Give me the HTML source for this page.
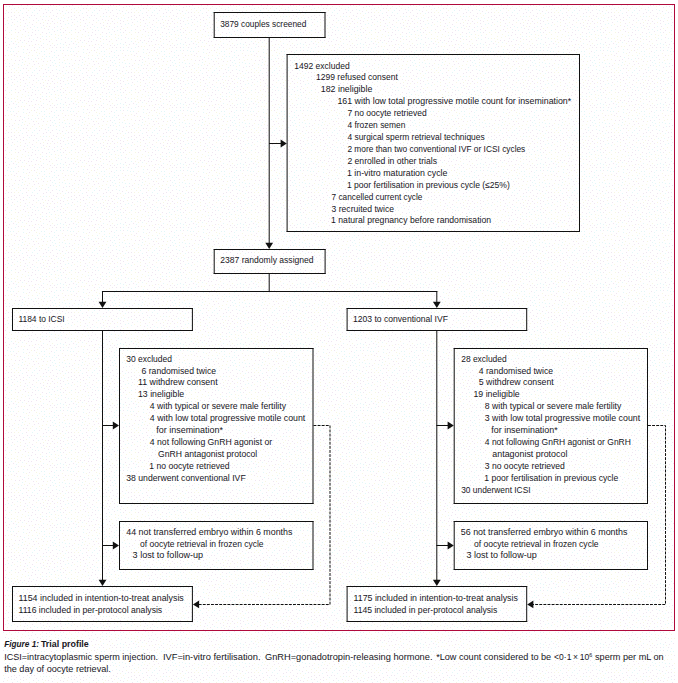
<!DOCTYPE html>
<html lang="en">
<head>
<meta charset="utf-8">
<title>Figure 1: Trial profile</title>
<style>
html,body{margin:0;padding:0;background:#fff;}
body{width:678px;height:683px;overflow:hidden;}
svg{display:block;}
text{font-family:"Liberation Sans",Arial,Helvetica,sans-serif;fill:#17161d;}
</style>
</head>
<body>
<svg width="678" height="683" viewBox="0 0 678 683">
<rect x="0" y="0" width="678" height="683" fill="#fff"/>
<defs>
<pattern id="dz" x="3" y="4" width="60" height="60" patternUnits="userSpaceOnUse">
<path d="M35 54.5h1M29 28.5h1M11 51.5h1M32 30.5h1M50 11.5h1M2 38.5h1M10 39.5h1M12 56.5h1M29 20.5h1M28 37.5h1M53 12.5h1M33 14.5h1M31 0.5h1M42 5.5h1M35 59.5h1M45 16.5h1M49 6.5h1M13 13.5h1M24 45.5h1M49 43.5h1M26 48.5h1M59 7.5h1M0 3.5h1M31 11.5h1M43 35.5h1M41 24.5h1M0 17.5h1M55 51.5h1M37 19.5h1M25 54.5h1M38 41.5h1M36 6.5h1M5 13.5h1M53 36.5h1M24 11.5h1M40 9.5h1M39 15.5h1M6 2.5h1M45 25.5h1M47 1.5h1M33 36.5h1M23 8.5h1M58 22.5h1M44 19.5h1M21 22.5h1M5 43.5h1M30 57.5h1M16 56.5h1M28 31.5h1M20 25.5h1M20 13.5h1M8 8.5h1M17 52.5h1M31 43.5h1M39 28.5h1M20 4.5h1M17 36.5h1M22 19.5h1M17 15.5h1M51 23.5h1M16 11.5h1M51 41.5h1M20 16.5h1M49 17.5h1M48 14.5h1M54 9.5h1M34 33.5h1M26 34.5h1M24 1.5h1M46 22.5h1M31 46.5h1M12 25.5h1M40 43.5h1M32 40.5h1M43 29.5h1M22 27.5h1M56 55.5h1M40 57.5h1M32 26.5h1M30 16.5h1M2 33.5h1M47 8.5h1M48 47.5h1M14 22.5h1M57 43.5h1M51 19.5h1M25 37.5h1M37 34.5h1M43 8.5h1M9 18.5h1M40 21.5h1M11 11.5h1M0 46.5h1M15 42.5h1M57 19.5h1M21 36.5h1M51 27.5h1M57 25.5h1M13 49.5h1M2 51.5h1M26 41.5h1M8 12.5h1M23 4.5h1M28 11.5h1M57 16.5h1M2 26.5h1M27 23.5h1M9 1.5h1M19 55.5h1M11 15.5h1M6 40.5h1M46 37.5h1M53 43.5h1M15 28.5h1M5 8.5h1M0 28.5h1M47 41.5h1M47 56.5h1" stroke="#efe4f1" stroke-width="1" fill="none" shape-rendering="crispEdges"/>
<path d="M28 55.5h1M32 54.5h1M40 39.5h1M19 9.5h1M5 34.5h1M51 56.5h1M41 47.5h1M33 4.5h1M3 2.5h1M53 5.5h1M20 48.5h1M18 1.5h1M59 58.5h1M40 12.5h1M5 19.5h1M8 15.5h1M45 6.5h1M8 26.5h1M26 13.5h1M56 1.5h1M2 9.5h1M21 53.5h1M15 0.5h1M38 23.5h1M29 8.5h1M19 58.5h1M10 47.5h1M12 43.5h1M30 35.5h1M41 54.5h1M57 28.5h1M8 37.5h1M2 59.5h1M4 46.5h1M34 23.5h1M54 26.5h1M50 1.5h1M19 38.5h1M1 14.5h1M58 31.5h1M51 48.5h1M31 22.5h1M20 45.5h1M53 53.5h1M41 50.5h1M49 53.5h1M48 30.5h1M14 17.5h1M57 46.5h1M35 26.5h1M53 46.5h1M58 35.5h1M57 39.5h1M8 21.5h1M52 59.5h1M8 44.5h1M0 43.5h1M31 6.5h1M56 6.5h1M36 43.5h1M39 32.5h1M7 47.5h1M11 4.5h1M6 59.5h1M54 22.5h1M34 9.5h1M29 25.5h1M34 51.5h1M49 58.5h1M2 20.5h1M55 14.5h1M51 51.5h1M46 52.5h1M45 3.5h1M17 6.5h1M35 16.5h1M54 40.5h1M55 34.5h1M13 40.5h1M43 32.5h1M49 25.5h1M43 52.5h1M38 47.5h1M24 21.5h1M43 12.5h1M46 28.5h1M25 31.5h1M0 40.5h1" stroke="#e1f7f8" stroke-width="1" fill="none" shape-rendering="crispEdges"/>
<path d="M59 49.5h1M37 12.5h1M6 28.5h1M44 40.5h1M25 28.5h1M0 53.5h1M15 38.5h1M40 18.5h1M29 41.5h1M17 26.5h1M14 32.5h1M25 6.5h1M54 18.5h1M43 0.5h1M3 30.5h1M17 21.5h1M21 0.5h1M29 51.5h1M12 28.5h1M46 49.5h1M49 39.5h1M23 39.5h1M37 30.5h1M8 55.5h1M14 52.5h1M46 12.5h1M40 35.5h1M3 6.5h1M15 47.5h1M18 33.5h1M11 59.5h1M58 13.5h1M15 3.5h1M8 5.5h1M21 42.5h1M46 44.5h1M4 55.5h1M55 31.5h1M24 24.5h1M38 4.5h1M33 48.5h1M42 16.5h1M53 2.5h1M43 45.5h1M52 30.5h1M34 45.5h1M44 57.5h1M26 59.5h1M56 58.5h1M0 24.5h1M22 32.5h1M11 34.5h1M8 30.5h1M35 40.5h1M39 1.5h1M52 33.5h1M22 57.5h1M11 20.5h1M15 8.5h1M48 35.5h1M5 51.5h1M23 49.5h1M19 30.5h1M26 18.5h1M18 42.5h1M27 4.5h1M33 18.5h1M38 55.5h1M36 49.5h1M4 23.5h1M47 19.5h1M28 46.5h1M23 15.5h1M29 2.5h1M3 41.5h1M57 9.5h1M39 52.5h1M0 11.5h1M8 50.5h1M51 15.5h1M8 34.5h1M1 56.5h1M17 18.5h1M13 6.5h1M36 2.5h1M12 37.5h1M37 37.5h1M25 51.5h1M46 32.5h1M43 22.5h1M33 57.5h1M14 35.5h1M4 16.5h1M11 8.5h1" stroke="#f7f7e1" stroke-width="1" fill="none" shape-rendering="crispEdges"/>
</pattern>
</defs>
<rect x="3" y="4" width="672" height="679" fill="url(#dz)"/>
<g id="lines">
<rect x="3.5" y="4.5" width="671" height="626" fill="none" stroke="#b00a3c" stroke-width="1" shape-rendering="crispEdges"/>
<rect x="213.7" y="12" width="111.8" height="1" fill="#111"/>
<rect x="213.7" y="37" width="111.8" height="1" fill="#111"/>
<rect x="213.7" y="12" width="1" height="26" fill="#111"/>
<rect x="324.5" y="12" width="1" height="26" fill="#111"/>
<rect x="286.6" y="54" width="293.4" height="1" fill="#111"/>
<rect x="286.6" y="231" width="293.4" height="1" fill="#111"/>
<rect x="286.6" y="54" width="1" height="178" fill="#111"/>
<rect x="579" y="54" width="1" height="178" fill="#111"/>
<rect x="213.7" y="249" width="111.9" height="1" fill="#111"/>
<rect x="213.7" y="273" width="111.9" height="1" fill="#111"/>
<rect x="213.7" y="249" width="1" height="25" fill="#111"/>
<rect x="324.6" y="249" width="1" height="25" fill="#111"/>
<rect x="12" y="308" width="180.9" height="1" fill="#111"/>
<rect x="12" y="330" width="180.9" height="1" fill="#111"/>
<rect x="12" y="308" width="1" height="23" fill="#111"/>
<rect x="191.9" y="308" width="1" height="23" fill="#111"/>
<rect x="346.6" y="308" width="180.6" height="1" fill="#111"/>
<rect x="346.6" y="330" width="180.6" height="1" fill="#111"/>
<rect x="346.6" y="308" width="1" height="23" fill="#111"/>
<rect x="526.2" y="308" width="1" height="23" fill="#111"/>
<rect x="119" y="348" width="194.5" height="1" fill="#111"/>
<rect x="119" y="503" width="194.5" height="1" fill="#111"/>
<rect x="119" y="348" width="1" height="156" fill="#111"/>
<rect x="312.5" y="348" width="1" height="156" fill="#111"/>
<rect x="453.7" y="348" width="194.3" height="1" fill="#111"/>
<rect x="453.7" y="503" width="194.3" height="1" fill="#111"/>
<rect x="453.7" y="348" width="1" height="156" fill="#111"/>
<rect x="647" y="348" width="1" height="156" fill="#111"/>
<rect x="119" y="521" width="194.5" height="1" fill="#111"/>
<rect x="119" y="569" width="194.5" height="1" fill="#111"/>
<rect x="119" y="521" width="1" height="49" fill="#111"/>
<rect x="312.5" y="521" width="1" height="49" fill="#111"/>
<rect x="453.7" y="521" width="194.3" height="1" fill="#111"/>
<rect x="453.7" y="569" width="194.3" height="1" fill="#111"/>
<rect x="453.7" y="521" width="1" height="49" fill="#111"/>
<rect x="647" y="521" width="1" height="49" fill="#111"/>
<rect x="12" y="586" width="180.9" height="1" fill="#111"/>
<rect x="12" y="621" width="180.9" height="1" fill="#111"/>
<rect x="12" y="586" width="1" height="36" fill="#111"/>
<rect x="191.9" y="586" width="1" height="36" fill="#111"/>
<rect x="346.6" y="586" width="180.6" height="1" fill="#111"/>
<rect x="346.6" y="621" width="180.6" height="1" fill="#111"/>
<rect x="346.6" y="586" width="1" height="36" fill="#111"/>
<rect x="526.2" y="586" width="1" height="36" fill="#111"/>
<rect x="268.7" y="38" width="1" height="205" fill="#111"/>
<rect x="269" y="143" width="12" height="1" fill="#111"/>
<rect x="268.7" y="274" width="1" height="18" fill="#111"/>
<rect x="102" y="291" width="335.3" height="1" fill="#111"/>
<rect x="102" y="291" width="1" height="11" fill="#111"/>
<rect x="436.3" y="291" width="1" height="11" fill="#111"/>
<rect x="102" y="331" width="1" height="250" fill="#111"/>
<rect x="102" y="425" width="12" height="1" fill="#111"/>
<rect x="102" y="545" width="12" height="1" fill="#111"/>
<rect x="436.3" y="331" width="1" height="250" fill="#111"/>
<rect x="436.3" y="425" width="12.4" height="1" fill="#111"/>
<rect x="436.3" y="545" width="12.4" height="1" fill="#111"/>
<polygon points="265.30,242.80 273.10,242.80 269.20,249.00" fill="#111"/>
<polygon points="280.60,139.60 280.60,147.40 286.80,143.50" fill="#111"/>
<polygon points="98.60,301.80 106.40,301.80 102.50,308.00" fill="#111"/>
<polygon points="432.90,301.80 440.70,301.80 436.80,308.00" fill="#111"/>
<polygon points="112.80,421.60 112.80,429.40 119.00,425.50" fill="#111"/>
<polygon points="112.80,541.60 112.80,549.40 119.00,545.50" fill="#111"/>
<polygon points="447.60,421.60 447.60,429.40 453.80,425.50" fill="#111"/>
<polygon points="447.60,541.60 447.60,549.40 453.80,545.50" fill="#111"/>
<polygon points="98.60,579.80 106.40,579.80 102.50,586.00" fill="#111"/>
<polygon points="432.90,579.80 440.70,579.80 436.80,586.00" fill="#111"/>
<path d="M313.5 425.5H330.0V604.5H197.9" fill="none" stroke="#111" stroke-width="1" stroke-dasharray="2.9 1.2"/>
<polygon points="199.10,600.50 199.10,608.30 192.90,604.40" fill="#111"/>
<path d="M648 425.5H665.5V604.5H532.2" fill="none" stroke="#111" stroke-width="1" stroke-dasharray="2.9 1.2"/>
<polygon points="533.40,600.50 533.40,608.30 527.20,604.40" fill="#111"/>
</g>
<g id="labels" font-size="9">
<text x="220.2" y="27" textLength="86.1" lengthAdjust="spacingAndGlyphs">3879 couples screened</text>
<text x="294.2" y="69" textLength="55.5" lengthAdjust="spacingAndGlyphs">1492 excluded</text>
<text x="316.1" y="80" textLength="81.8" lengthAdjust="spacingAndGlyphs">1299 refused consent</text>
<text x="320.8" y="92" textLength="51.5" lengthAdjust="spacingAndGlyphs">182 ineligible</text>
<text x="337.4" y="104" textLength="233.8" lengthAdjust="spacingAndGlyphs">161 with low total progressive motile count for insemination*</text>
<text x="347.4" y="116" textLength="79.3" lengthAdjust="spacingAndGlyphs">7 no oocyte retrieved</text>
<text x="347.4" y="128" textLength="58.0" lengthAdjust="spacingAndGlyphs">4 frozen semen</text>
<text x="347.4" y="140" textLength="137.3" lengthAdjust="spacingAndGlyphs">4 surgical sperm retrieval techniques</text>
<text x="347.4" y="152" textLength="177.9" lengthAdjust="spacingAndGlyphs">2 more than two conventional IVF or ICSI cycles</text>
<text x="347.4" y="164" textLength="89.6" lengthAdjust="spacingAndGlyphs">2 enrolled in other trials</text>
<text x="346.9" y="176" textLength="100.6" lengthAdjust="spacingAndGlyphs">1 in-vitro maturation cycle</text>
<text x="346.9" y="188" textLength="162.9" lengthAdjust="spacingAndGlyphs">1 poor fertilisation in previous cycle (≤25%)</text>
<text x="331.6" y="200" textLength="90.8" lengthAdjust="spacingAndGlyphs">7 cancelled current cycle</text>
<text x="331.6" y="212" textLength="62.4" lengthAdjust="spacingAndGlyphs">3 recruited twice</text>
<text x="331.1" y="223" textLength="160.0" lengthAdjust="spacingAndGlyphs">1 natural pregnancy before randomisation</text>
<text x="220.3" y="263" textLength="93.3" lengthAdjust="spacingAndGlyphs">2387 randomly assigned</text>
<text x="18.4" y="322" textLength="46.3" lengthAdjust="spacingAndGlyphs">1184 to ICSI</text>
<text x="353.0" y="322" textLength="94.9" lengthAdjust="spacingAndGlyphs">1203 to conventional IVF</text>
<text x="126.2" y="362" textLength="45.7" lengthAdjust="spacingAndGlyphs">30 excluded</text>
<text x="141.5" y="374" textLength="74.6" lengthAdjust="spacingAndGlyphs">6 randomised twice</text>
<text x="138.0" y="385" textLength="79.6" lengthAdjust="spacingAndGlyphs">11 withdrew consent</text>
<text x="138.0" y="397" textLength="46.2" lengthAdjust="spacingAndGlyphs">13 ineligible</text>
<text x="149.8" y="409" textLength="136.2" lengthAdjust="spacingAndGlyphs">4 with typical or severe male fertility</text>
<text x="149.8" y="421" textLength="155.5" lengthAdjust="spacingAndGlyphs">4 with low total progressive motile count</text>
<text x="156.3" y="433" textLength="66.7" lengthAdjust="spacingAndGlyphs">for insemination*</text>
<text x="149.8" y="445" textLength="122.4" lengthAdjust="spacingAndGlyphs">4 not following GnRH agonist or</text>
<text x="158.1" y="457" textLength="99.1" lengthAdjust="spacingAndGlyphs">GnRH antagonist protocol</text>
<text x="149.3" y="469" textLength="80.3" lengthAdjust="spacingAndGlyphs">1 no oocyte retrieved</text>
<text x="126.2" y="481" textLength="119.5" lengthAdjust="spacingAndGlyphs">38 underwent conventional IVF</text>
<text x="461.2" y="362" textLength="45.5" lengthAdjust="spacingAndGlyphs">28 excluded</text>
<text x="478.8" y="374" textLength="74.3" lengthAdjust="spacingAndGlyphs">4 randomised twice</text>
<text x="478.8" y="385" textLength="75.0" lengthAdjust="spacingAndGlyphs">5 withdrew consent</text>
<text x="473.5" y="397" textLength="46.2" lengthAdjust="spacingAndGlyphs">19 ineligible</text>
<text x="484.8" y="409" textLength="136.5" lengthAdjust="spacingAndGlyphs">8 with typical or severe male fertility</text>
<text x="484.8" y="421" textLength="155.3" lengthAdjust="spacingAndGlyphs">3 with low total progressive motile count</text>
<text x="491.3" y="433" textLength="66.4" lengthAdjust="spacingAndGlyphs">for insemination*</text>
<text x="484.8" y="445" textLength="146.1" lengthAdjust="spacingAndGlyphs">4 not following GnRH agonist or GnRH</text>
<text x="492.3" y="457" textLength="75.1" lengthAdjust="spacingAndGlyphs">antagonist protocol</text>
<text x="484.8" y="469" textLength="80.1" lengthAdjust="spacingAndGlyphs">3 no oocyte retrieved</text>
<text x="484.3" y="481" textLength="134.0" lengthAdjust="spacingAndGlyphs">1 poor fertilisation in previous cycle</text>
<text x="461.2" y="493" textLength="69.4" lengthAdjust="spacingAndGlyphs">30 underwent ICSI</text>
<text x="126.3" y="535" textLength="166.1" lengthAdjust="spacingAndGlyphs">44 not transferred embryo within 6 months</text>
<text x="140.1" y="547" textLength="123.5" lengthAdjust="spacingAndGlyphs">of oocyte retrieval in frozen cycle</text>
<text x="132.6" y="558" textLength="70.5" lengthAdjust="spacingAndGlyphs">3 lost to follow-up</text>
<text x="460.8" y="535" textLength="166.6" lengthAdjust="spacingAndGlyphs">56 not transferred embryo within 6 months</text>
<text x="473.9" y="547" textLength="124.7" lengthAdjust="spacingAndGlyphs">of oocyte retrieval in frozen cycle</text>
<text x="466.5" y="558" textLength="70.2" lengthAdjust="spacingAndGlyphs">3 lost to follow-up</text>
<text x="18.5" y="601" textLength="165.3" lengthAdjust="spacingAndGlyphs">1154 included in intention-to-treat analysis</text>
<text x="18.5" y="613" textLength="143.7" lengthAdjust="spacingAndGlyphs">1116 included in per-protocol analysis</text>
<text x="353.5" y="601" textLength="164.3" lengthAdjust="spacingAndGlyphs">1175 included in intention-to-treat analysis</text>
<text x="353.5" y="613" textLength="143.7" lengthAdjust="spacingAndGlyphs">1145 included in per-protocol analysis</text>
</g>
<g id="caption">
<text x="4.2" y="647" textLength="34.8" lengthAdjust="spacingAndGlyphs" font-weight="bold" font-style="italic" font-size="9.5">Figure 1:</text>
<text x="40.9" y="647" textLength="47.9" lengthAdjust="spacingAndGlyphs" font-weight="bold" font-size="9.5">Trial profile</text>
<text x="4.2" y="660" textLength="153.9" lengthAdjust="spacingAndGlyphs" font-size="9.5">ICSI=intracytoplasmic sperm injection.</text>
<text x="162.9" y="660" textLength="97.7" lengthAdjust="spacingAndGlyphs" font-size="9.5">IVF=in-vitro fertilisation.</text>
<text x="265" y="660" textLength="167.5" lengthAdjust="spacingAndGlyphs" font-size="9.5">GnRH=gonadotropin-releasing hormone.</text>
<text x="436.2" y="660" textLength="115.0" lengthAdjust="spacingAndGlyphs" font-size="9.5">*Low count considered to be</text>
<text x="554.1" y="660" textLength="38.1" lengthAdjust="spacingAndGlyphs" font-size="9.5">&lt;0·1&#8201;×&#8201;10<tspan font-size="6" dy="-3.5">6</tspan></text>
<text x="595" y="660" textLength="68.7" lengthAdjust="spacingAndGlyphs" font-size="9.5">sperm per mL on</text>
<text x="4.2" y="672" textLength="106.6" lengthAdjust="spacingAndGlyphs" font-size="9.5">the day of oocyte retrieval.</text>
</g>
</svg>
</body>
</html>
